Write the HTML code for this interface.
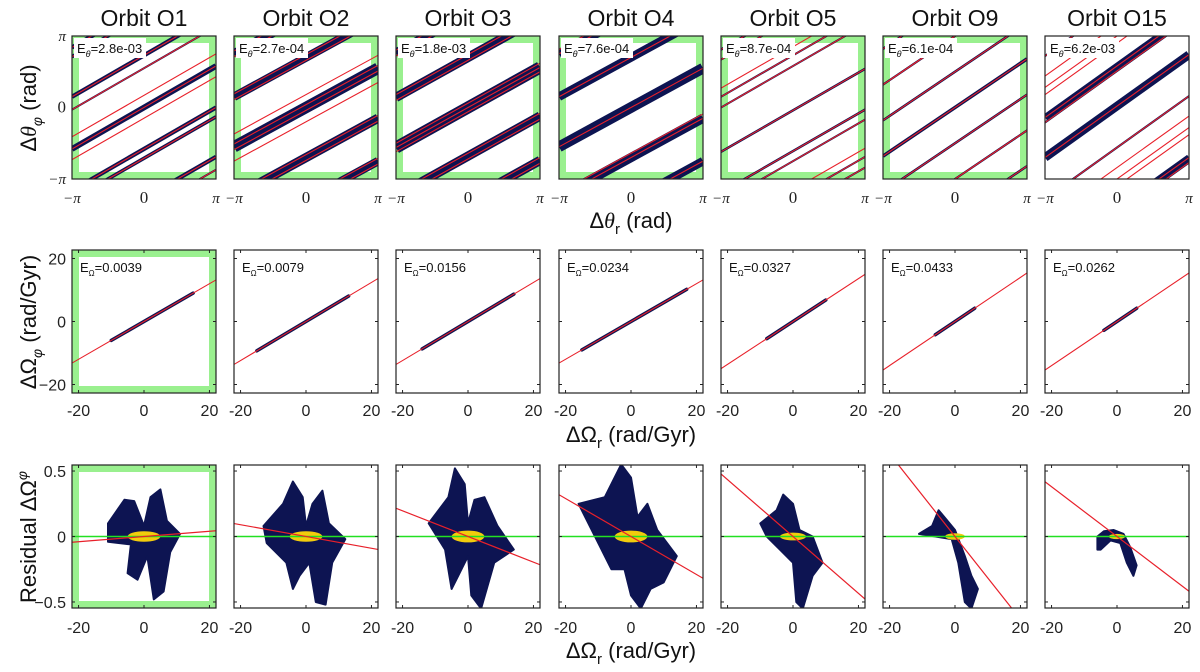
<!DOCTYPE html>
<html><head><meta charset="utf-8"><style>
html,body{margin:0;padding:0;background:#fff;}
svg{display:block;font-family:"Liberation Sans",sans-serif;}
</style></head><body>
<svg id="fig" width="1200" height="672" viewBox="0 0 1200 672" xmlns="http://www.w3.org/2000/svg">
<defs id="defs"></defs>
</svg>
<script>
// ---------- data ----------
const orbitNames = ["Orbit O1","Orbit O2","Orbit O3","Orbit O4","Orbit O5","Orbit O9","Orbit O15"];
const greenRow1 = [1,1,1,1,1,1,0];
const greenRow2 = [1,0,0,0,0,0,0];
const greenRow3 = [1,0,0,0,0,0,0];
const eTheta = ["2.8e-03","2.7e-04","1.8e-03","7.6e-04","8.7e-04","6.1e-04","6.2e-03"];
const eOmega = ["0.0039","0.0079","0.0156","0.0234","0.0327","0.0433","0.0262"];
// row 1: slopes, band intercepts / widths (units of pi), red line intercepts
const slopes1 = [0.58,0.55,0.56,0.55,0.58,0.68,0.72];
const bandB1 = [[0,0.73,-0.58,-0.71,0.55],[0,0.7,-0.7],[0,0.7,-0.68],[0,0.7,-0.7],[-0.04,0.73,0.58,-0.61,-0.75],[0,0.5,-0.5,1.0,-1.0],[0.02,0.51,-0.56,-1.42]];
const bandW1 = [[0.08,0.06,0.06,0.05,0.015],[0.16,0.12,0.13],[0.17,0.13,0.13],[0.15,0.12,0.13],[0.035,0.025,0.02,0.035,0.025],[0.05,0.035,0.035,0.02,0.02],[0.12,0.03,0.03,0.09]];
const redB1 = [[0,0.17,-0.15,0.73,0.55,-0.58,-0.71],[-0.04,0.04,0.66,0.74,-0.66,-0.74,0.18,-0.2],[-0.06,0,0.06,0.66,0.74,-0.64,-0.72],[0,0.7,-0.7,-0.64],[-0.04,0.73,0.58,-0.61,-0.75,-1.15],[0,0.5,-0.5,1.0,-1.0],[0.02,0.51,-0.56,-0.84,-1.42,-1.1,1.0]];
// row 2: fit slopes and scatter extent
const slopes2 = [0.6,0.62,0.62,0.6,0.68,0.7,0.7];
const scatMin2 = [-10,-15,-14,-15,-8,-6,-4];
const scatMax2 = [15,13,14,17,10,6,6];
// row 3: residual fit slopes, cloud polygons (x, y) and core sizes
const slopes3 = [0.002,-0.0045,-0.0098,-0.0145,-0.0217,-0.0316,-0.019];
const clouds3 = [
 [[-11,0.1],[-6,0.28],[-3,0.27],[0,0.08],[2,0.3],[5,0.36],[7,0.12],[11,0.02],[8,-0.12],[6,-0.42],[3,-0.48],[1,-0.15],[-2,-0.33],[-5,-0.28],[-4,-0.06],[-11,-0.04]],
 [[-13,0.08],[-7,0.25],[-4,0.42],[-1,0.3],[0,0.08],[2,0.25],[5,0.35],[7,0.1],[12,-0.02],[8,-0.2],[6,-0.52],[3,-0.5],[1,-0.2],[-2,-0.3],[-4,-0.4],[-6,-0.2],[-12,-0.05]],
 [[-12,0.1],[-6,0.3],[-4,0.52],[-1,0.4],[0,0.1],[2,0.28],[5,0.3],[9,0.08],[14,-0.1],[8,-0.2],[4,-0.55],[1,-0.45],[0,-0.15],[-3,-0.3],[-5,-0.4],[-7,-0.1]],
 [[-16,0.25],[-8,0.3],[-3,0.55],[0,0.45],[2,0.15],[5,0.25],[8,0.05],[14,-0.15],[10,-0.35],[6,-0.4],[3,-0.55],[0,-0.45],[-2,-0.25],[-6,-0.25],[-10,-0.05]],
 [[-10,0.1],[-5,0.2],[-3,0.32],[0,0.25],[2,0.05],[6,0.0],[9,-0.2],[6,-0.3],[3,-0.55],[1,-0.5],[0,-0.2],[-4,-0.1],[-8,0.0]],
 [[-11,0.02],[-7,0.08],[-5,0.2],[-3,0.14],[0,0.05],[3,-0.15],[5,-0.3],[7,-0.4],[5,-0.55],[3,-0.5],[1,-0.2],[-1,-0.02],[-6,0.0]],
 [[-6,0.0],[-4,0.04],[-1,0.05],[2,0.02],[4,-0.08],[6,-0.22],[5,-0.3],[3,-0.2],[1,-0.05],[-2,-0.03],[-5,-0.1],[-6,-0.1]]
];
const coreRx3 = [5,5,5,5,4,3,2.5];
const coreRy3 = [0.04,0.04,0.045,0.045,0.03,0.025,0.02];
const ticks23 = [-20,0,20];
const ticks3y = [0.5,0,-0.5];

// ---------- layout ----------
const NS="http://www.w3.org/2000/svg";
const svg=document.getElementById('fig');
const defs=document.getElementById('defs');
const lefts=[72,234,396,559,721,883,1045];
const W=144,H=143;
const tops=[36,250,465];
const XR=22, YR2=22.7, YR3=0.546;
function mk(tag,attrs,parent){const e=document.createElementNS(NS,tag);for(const k in attrs)e.setAttribute(k,attrs[k]);(parent||svg).appendChild(e);return e;}
function xs(p,v,r){return lefts[p]+(v+r)/(2*r)*W;}
function ys(row,v,r){return tops[row]+(r-v)/(2*r)*H;}

function frame(p,row,green,g){
  if(green){
    const gr=mk('rect',{x:lefts[p]+3.5,y:tops[row]+3.5,width:W-7,height:H-7,fill:'none',stroke:'#9af08f','stroke-width':7},g);
    
    
  }
}
function border(p,row,g,ticksX,ticksY,rx,ry){
  const b=mk('rect',{x:lefts[p],y:tops[row],width:W,height:H,fill:'none',stroke:'#222','stroke-width':1.2},g);
  
  
  ticksX.forEach(t=>{const x=xs(p,t,rx);
    mk('line',{x1:x,x2:x,y1:tops[row],y2:tops[row]+3,stroke:'#222'},g);
    mk('line',{x1:x,x2:x,y1:tops[row]+H,y2:tops[row]+H-3,stroke:'#222'},g);});
  ticksY.forEach(t=>{const y=ys(row,t,ry);
    mk('line',{x1:lefts[p],x2:lefts[p]+3,y1:y,y2:y,stroke:'#222'},g);
    mk('line',{x1:lefts[p]+W,x2:lefts[p]+W-3,y1:y,y2:y,stroke:'#222'},g);});
}
function clip(p,row){
  const id='c'+row+'_'+p;
  const c=mk('clipPath',{id:id},defs);
  mk('rect',{x:lefts[p],y:tops[row],width:W,height:H},c);
  return 'url(#'+id+')';
}

// titles
orbitNames.forEach((n,p)=>{
  const t=mk('text',{x:lefts[p]+W/2,y:26,'text-anchor':'middle','font-size':23,fill:'#111'});
  t.textContent=n;
  
  
});

// ---------- row 1 ----------
for(let p=0;p<7;p++){
  const g=mk('g',{});
  
  
  frame(p,0,greenRow1[p],g);
  const cg=mk('g',{'clip-path':clip(p,0)},g);
  const k=slopes1[p];
  const lineAt=(b,attrs)=>{for(let m=-2;m<=2;m++){const bb=b+2*m;
    mk('line',Object.assign({x1:xs(p,-1,1),y1:ys(0,bb-k,1),x2:xs(p,1,1),y2:ys(0,bb+k,1)},attrs),cg);}};
  bandB1[p].forEach((b,i)=>{lineAt(b,{stroke:'#0d1452','stroke-width':Math.max(2,bandW1[p][i]*H/2)});});
  redB1[p].forEach(b=>{lineAt(b,{stroke:'#e8202a','stroke-width':1.1});});
  border(p,0,g,[],[],1,1);
  const lb=mk('rect',{x:lefts[p]+2,y:tops[0]+2,width:72,height:20,fill:'#fff'},g);
  
  
  const t=mk('text',{x:lefts[p]+5,y:tops[0]+17,'font-size':13,fill:'#111'},g);
  t.innerHTML='E<tspan font-size="9" font-style="italic" dy="4">θ</tspan><tspan dy="-4">='+eTheta[p]+'</tspan>';
  
  
  [['−π',-1],['0',0],['π',1]].forEach(([s,v])=>{
    const tt=mk('text',{x:xs(p,v,1),y:203,'text-anchor':'middle','font-family':'Liberation Serif, serif','font-style':v?'italic':'normal','font-size':v?15:17,fill:'#222'});
    tt.textContent=s;
    
    
  });
}
[['π',1],['0',0],['−π',-1]].forEach(([s,v])=>{
  const tt=mk('text',{x:66,y:ys(0,v,1)+5,'text-anchor':'end','font-family':'Liberation Serif, serif','font-style':v?'italic':'normal','font-size':v?15:17,fill:'#222'});
  tt.textContent=s;
  
  
});

// ---------- row 2 ----------
for(let p=0;p<7;p++){
  const g=mk('g',{});
  
  
  frame(p,1,greenRow2[p],g);
  const cg=mk('g',{'clip-path':clip(p,1)},g);
  const k=slopes2[p];
  const sc=mk('line',{x1:xs(p,scatMin2[p],XR),y1:ys(1,k*scatMin2[p],YR2),x2:xs(p,scatMax2[p],XR),y2:ys(1,k*scatMax2[p],YR2),stroke:'#0d1452','stroke-width':3.5,'stroke-linecap':'round'},cg);
  
  
  const fl=mk('line',{x1:xs(p,-XR,XR),y1:ys(1,-k*XR,YR2),x2:xs(p,XR,XR),y2:ys(1,k*XR,YR2),stroke:'#e8202a','stroke-width':1.1},cg);
  
  
  border(p,1,g,ticks23,ticks23,XR,YR2);
  const t=mk('text',{x:lefts[p]+8,y:tops[1]+22,'font-size':13,fill:'#111'},g);
  t.innerHTML='E<tspan font-size="8" dy="4">Ω</tspan><tspan dy="-4">='+eOmega[p]+'</tspan>';
  
  
  ticks23.forEach(v=>{const tt=mk('text',{x:xs(p,v,XR),y:416,'text-anchor':'middle','font-size':16,fill:'#222'});
    tt.textContent=v<0?'-'+(-v):String(v);
    
    });
}
ticks23.forEach(v=>{const tt=mk('text',{x:66,y:ys(1,v,YR2)+6,'text-anchor':'end','font-size':16,fill:'#222'});
  tt.textContent=v<0?'−'+(-v):String(v);
  
  });

// ---------- row 3 ----------
for(let p=0;p<7;p++){
  const g=mk('g',{});
  
  
  frame(p,2,greenRow3[p],g);
  const cg=mk('g',{'clip-path':clip(p,2)},g);
  const pts=clouds3[p].map(([x,y])=>xs(p,x,XR).toFixed(1)+','+ys(2,y,YR3).toFixed(1)).join(' ');
  const cl=mk('polygon',{points:pts,fill:'#0d1452',stroke:'#0d1452','stroke-width':2,'stroke-linejoin':'round'},cg);
  
  
  const co=mk('ellipse',{cx:xs(p,0,XR),cy:ys(2,0,YR3),rx:coreRx3[p]/(2*XR)*W,ry:coreRy3[p]/(2*YR3)*H,fill:'#f2cc0c'},cg);
  
  
  const gl=mk('line',{x1:lefts[p],x2:lefts[p]+W,y1:ys(2,0,YR3),y2:ys(2,0,YR3),stroke:'#22e022','stroke-width':1.6},cg);
  
  
  const k=slopes3[p];
  const rl=mk('line',{x1:xs(p,-XR,XR),y1:ys(2,-k*XR,YR3),x2:xs(p,XR,XR),y2:ys(2,k*XR,YR3),stroke:'#e8202a','stroke-width':1.2},cg);
  
  
  border(p,2,g,ticks23,ticks3y,XR,YR3);
  ticks23.forEach(v=>{const tt=mk('text',{x:xs(p,v,XR),y:633,'text-anchor':'middle','font-size':16,fill:'#222'});
    tt.textContent=v<0?'-'+(-v):String(v);
    
    });
}
ticks3y.forEach(v=>{const tt=mk('text',{x:66,y:ys(2,v,YR3)+6,'text-anchor':'end','font-size':16,fill:'#222'});
  tt.textContent=v<0?'−'+(-v):String(v);
  
  });

// ---------- axis titles ----------
function lab(html,x,y,rot,name){
  const t=mk('text',{x:x,y:y,'text-anchor':'middle','font-size':22,fill:'#111',transform:rot?'rotate(-90 '+x+' '+y+')':''});
  t.innerHTML=html;
  
  
}
lab('Δ<tspan font-family="Liberation Serif, serif" font-style="italic">θ</tspan><tspan font-size="14" dy="6" font-style="italic">φ</tspan><tspan dy="-6"> (rad)</tspan>',36,108,true,'y-axis-title-angle');
lab('ΔΩ<tspan font-size="14" dy="6" font-style="italic">φ</tspan><tspan dy="-6"> (rad/Gyr)</tspan>',36,322,true,'y-axis-title-frequency');
lab('Residual ΔΩ<tspan font-size="14" dy="-9" font-style="italic">φ</tspan>',36,537,true,'y-axis-title-residual');
lab('Δ<tspan font-family="Liberation Serif, serif" font-style="italic">θ</tspan><tspan font-size="15" dy="6">r</tspan><tspan dy="-6"> (rad)</tspan>',631,228,false,'x-axis-title-angle');
lab('ΔΩ<tspan font-size="15" dy="6">r</tspan><tspan dy="-6"> (rad/Gyr)</tspan>',631,442,false,'x-axis-title-frequency');
lab('ΔΩ<tspan font-size="15" dy="6">r</tspan><tspan dy="-6"> (rad/Gyr)</tspan>',631,658,false,'x-axis-title-residual');
</script>
</body></html>
